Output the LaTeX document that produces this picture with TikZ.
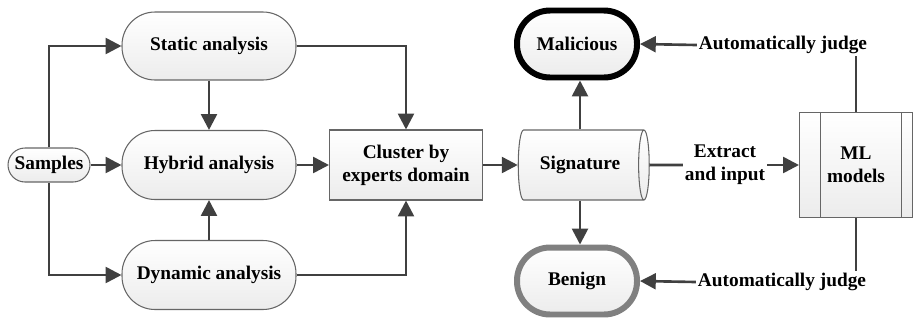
\documentclass[tikz,border=0pt]{standalone}
\usepackage{fontspec}
\setmainfont{Liberation Serif}
\usetikzlibrary{shapes.geometric,arrows.meta}

\tikzset{
  box/.style={draw=gray!80!black,line width=0.6pt,top color=white,
    bottom color=gray!15,font=\bfseries\fontsize{11}{13}\selectfont,
    align=center,inner sep=1pt},
  pill/.style={box,rectangle,rounded corners=0.66cm},
  flow/.style={draw=black!75,line width=1.5pt,
    -{Triangle[length=9pt,width=9pt]}},
  link/.style={draw=black!75,line width=1.5pt},
  tag/.style={fill=white,font=\bfseries\fontsize{11}{13}\selectfont,
    align=center,inner sep=1pt}
}

\begin{document}
\begin{tikzpicture}[x=0.02cm,y=-0.02cm]
    \useasboundingbox (0,0) rectangle (913,322);

    \node [pill,minimum width=1.64cm,minimum height=0.68cm,
    rounded corners=0.34cm] (samples) at (49,165) {Samples};

    \node [pill,minimum width=3.48cm,minimum height=1.36cm]
    (static) at (209,46) {Static analysis};

    \node [pill,minimum width=3.48cm,minimum height=1.38cm]
    (hybrid) at (209,165) {Hybrid analysis};

    \node [pill,minimum width=3.48cm,minimum height=1.38cm]
    (dynamic) at (209,275) {Dynamic analysis};

    \node [box,rectangle,minimum width=3.06cm,minimum height=1.4cm]
    (cluster) at (406,165) {Cluster by\\experts domain};

    \node [box,cylinder,shape aspect=0.5,minimum width=1.4cm,
    minimum height=2.62cm] (signature) at (580,165) {Signature};

    \node [pill,draw=black,line width=3.4pt,minimum width=2.4cm,
    minimum height=1.34cm] (malicious) at (577,44) {Malicious};

    \node [pill,draw=gray,line width=3.4pt,minimum width=2.4cm,
    minimum height=1.34cm] (benign) at (577,281) {Benign};

    \node [box,rectangle,minimum width=2.26cm,minimum height=2.1cm,
    path picture={
      \draw [gray!80!black,line width=0.6pt]
        ([xshift=0.42cm]path picture bounding box.north west) --
        ([xshift=0.42cm]path picture bounding box.south west);
      \draw [gray!80!black,line width=0.6pt]
        ([xshift=-0.22cm]path picture bounding box.north east) --
        ([xshift=-0.22cm]path picture bounding box.south east);
    }] (ml) at (856,165) {ML\\models};

    \node [tag] (judgetop) at (783,45) {Automatically judge};
    \node [tag] (judgebot) at (782,282) {Automatically judge};
    \node [tag] (extract) at (725,165) {Extract\\and input};

    % samples to the three analyses
    \draw [flow] (samples.north) |- (static.west);
    \draw [flow] (samples.south) |- (dynamic.west);
    \draw [flow] (samples.east) -- (hybrid.west);
    \draw [flow] (static.south) -- (hybrid.north);
    \draw [flow] (dynamic.north) -- (hybrid.south);

    % into the cluster
    \draw [flow] (static.east) -| (cluster.north);
    \draw [flow] (dynamic.east) -| (cluster.south);
    \draw [flow] (hybrid.east) -- (cluster.west);
    \draw [flow] (cluster.east) -- (signature.west);

    % signature to results
    \draw [flow] (signature.north) -- (signature.north |- malicious.south);
    \draw [flow] (signature.south) -- (signature.south |- benign.north);
    \draw [link] (signature.east) -- (extract.west);
    \draw [flow] (extract.east) -- (ml.west);

    % model judges
    \draw [link] (ml.north) -- (ml.north |- judgetop.south);
    \draw [link] (ml.south) -- (ml.south |- judgebot.north);
    \draw [flow] (judgetop.west) -- (malicious.east);
    \draw [flow] (judgebot.west) -- (benign.east);
  \end{tikzpicture}
\end{document}
